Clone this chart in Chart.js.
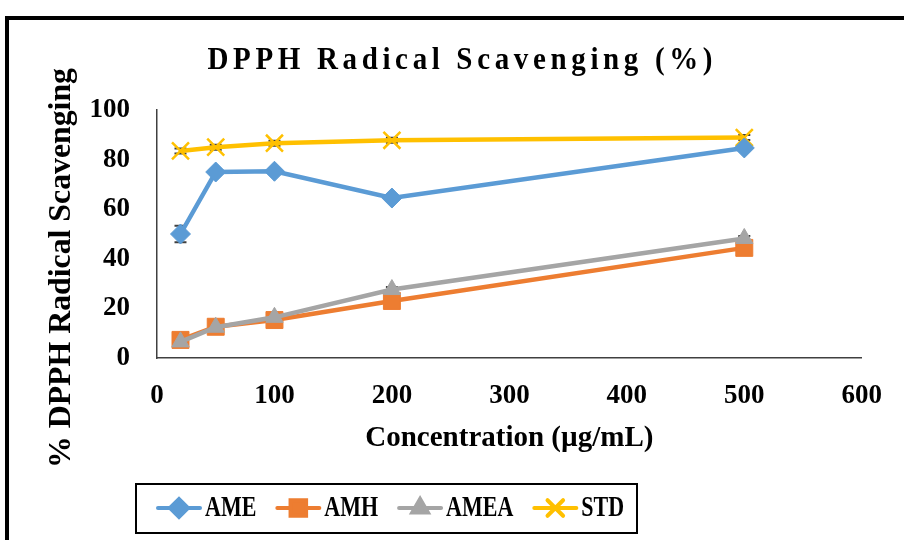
<!DOCTYPE html>
<html lang="en">
<head>
<meta charset="UTF-8">
<title>DPPH Radical Scavenging (%)</title>
<script src="https://cdn.jsdelivr.net/npm/chart.js"></script>
<style>
  body { margin: 0; background: #fff; }
  #wrap { position: relative; width: 904px; height: 540px; }
</style>
</head>
<body>
<div id="wrap"><canvas id="dpph" width="904" height="540"></canvas></div>
<script>
// concentrations (µg/mL) and % scavenging
const concentrations = [20, 50, 100, 200, 500];
const seriesNames = ["AME", "AMH", "AMEA", "STD"];
const ame  = [50.0, 75.0, 75.3, 64.5, 84.7];
const amh  = [7.3, 12.6, 15.3, 23.0, 44.4];
const amea = [6.5, 12.4, 16.4, 27.6, 48.2];
const std  = [83.5, 85.0, 86.6, 87.8, 88.9];
// error bar half-heights
const ameErr  = [3.3, 1.0, 0.8, 1.2, 0.8];
const amhErr  = [0.5, 0.5, 0.5, 0.6, 0.6];
const ameaErr = [0.5, 0.5, 0.5, 1.0, 1.0];
const stdErr  = [1.0, 1.0, 1.0, 1.0, 1.0];
const xTicks = [0, 100, 200, 300, 400, 500, 600];
const yTicks = [0, 20, 40, 60, 80, 100];

const colors = ["#5B9BD5", "#ED7D31", "#A5A5A5", "#FFC000"];
const markers = ["rectRot", "rect", "triangle", "crossRot"];
const radii = [10, 12, 10, 12];
const values = [ame, amh, amea, std];
const errors = [ameErr, amhErr, ameaErr, stdErr];
const serif = "'Liberation Serif', 'Times New Roman', serif";

function pts(arr) {
    return arr.map((v, i) => ({ x: concentrations[i], y: v }));
}

// draw text squeezed/stretched to a given width, with a vertical stretch
function drawStretched(ctx, text, cx, cy, size, width, sy, spacing) {
    ctx.save();
    ctx.font = "bold " + size + "px " + serif;
    ctx.letterSpacing = (spacing || 0) + "px";
    const w = ctx.measureText(text).width - (spacing || 0);
    ctx.translate(cx, cy);
    ctx.scale(width ? width / w : 1, sy);
    ctx.textAlign = "center";
    ctx.textBaseline = "middle";
    ctx.fillStyle = "#000";
    ctx.fillText(text, (spacing || 0) / 2, 0);
    ctx.restore();
}

const decorPlugin = {
    id: "decor",
    beforeDraw(chart) {
        const ctx = chart.ctx;
        ctx.save();
        ctx.fillStyle = "#fff";
        ctx.fillRect(0, 0, chart.width, chart.height);
        // outer frame (only top and left visible)
        ctx.strokeStyle = "#000";
        ctx.lineWidth = 4;
        ctx.beginPath();
        ctx.moveTo(7, 545);
        ctx.lineTo(7, 18);
        ctx.lineTo(910, 18);
        ctx.stroke();
        ctx.restore();
    },
    beforeDatasetsDraw(chart) {
        const ctx = chart.ctx;
        const xs = chart.scales.x, ys = chart.scales.y;
        ctx.save();
        ctx.strokeStyle = "#404040";
        ctx.lineWidth = 2;
        errors.forEach((errArr, d) => {
            errArr.forEach((e, i) => {
                const px = xs.getPixelForValue(concentrations[i]);
                const top = ys.getPixelForValue(values[d][i] + e);
                const bot = ys.getPixelForValue(values[d][i] - e);
                ctx.beginPath();
                ctx.moveTo(px, top); ctx.lineTo(px, bot);
                ctx.moveTo(px - 6, top); ctx.lineTo(px + 6, top);
                ctx.moveTo(px - 6, bot); ctx.lineTo(px + 6, bot);
                ctx.stroke();
            });
        });
        ctx.restore();
    },
    afterDraw(chart) {
        const ctx = chart.ctx;
        // title
        drawStretched(ctx, "DPPH Radical Scavenging (%)", 460, 61, 25, 505, 1.25, 4);
        // y axis title
        ctx.save();
        ctx.translate(62, 268);
        ctx.rotate(-Math.PI / 2);
        drawStretched(ctx, "% DPPH Radical Scavenging", 0, 0, 26, 400, 1.2, 0);
        ctx.restore();

        // legend box
        ctx.save();
        ctx.strokeStyle = "#000";
        ctx.lineWidth = 2;
        ctx.strokeRect(136, 484, 501, 49);
        let x = 158;
        const y = 508;
        seriesNames.forEach((name, i) => {
            ctx.strokeStyle = colors[i];
            ctx.lineWidth = 4;
            ctx.lineCap = "round";
            ctx.beginPath();
            ctx.moveTo(x, y); ctx.lineTo(x + 42, y);
            ctx.stroke();
            ctx.fillStyle = colors[i];
            Chart.helpers.drawPoint(ctx, {
                pointStyle: markers[i],
                radius: radii[i] - 1,
                rotation: 0,
                borderWidth: i === 3 ? 2 : 1
            }, x + 21, y);
            ctx.font = "bold 22px " + serif;
            const tw = ctx.measureText(name).width;
            drawStretched(ctx, name, x + 47 + tw / 2, y, 22, tw, 1.35, 0);
            x += 47 + tw + 21;
        });
        ctx.restore();
    }
};

const datasets = seriesNames.map((name, i) => ({
    label: name,
    data: pts(values[i]),
    borderColor: colors[i],
    backgroundColor: colors[i],
    borderWidth: 4.5,
    pointStyle: markers[i],
    pointRadius: radii[i],
    pointHoverRadius: radii[i],
    pointBorderWidth: i === 3 ? 2.5 : 1,
    pointBackgroundColor: colors[i],
    pointBorderColor: colors[i],
    tension: 0,
    order: [2, 1, 0, 3][i]
}));

new Chart(document.getElementById("dpph"), {
    type: "line",
    data: { datasets },
    options: {
        responsive: false,
        animation: false,
        devicePixelRatio: 1,
        layout: { padding: { left: 0, top: 110, right: 38, bottom: 78 } },
        plugins: {
            legend: { display: false },
            title: { display: false },
            tooltip: { enabled: false }
        },
        scales: {
            x: {
                type: "linear",
                min: 0, max: 600,
                afterBuildTicks: s => { s.ticks = xTicks.map(v => ({ value: v })); },
                afterFit: s => { s.height = 104; },
                grid: { display: false, drawTicks: false },
                border: { display: true, color: "#404040", width: 1.5 },
                ticks: { color: "#000", padding: 22, font: { family: serif, size: 27, weight: "bold" } },
                title: {
                    display: true,
                    text: "Concentration (µg/mL)",
                    color: "#000",
                    font: { family: serif, size: 29, weight: "bold" },
                    padding: { top: 0, bottom: 6 }
                }
            },
            y: {
                min: 0, max: 100,
                afterBuildTicks: s => { s.ticks = yTicks.map(v => ({ value: v })); },
                afterFit: s => { s.width = 157; },
                grid: { display: false, drawTicks: false },
                border: { display: true, color: "#404040", width: 1.5 },
                ticks: { color: "#000", padding: 27, font: { family: serif, size: 27, weight: "bold" } }
            }
        }
    },
    plugins: [decorPlugin]
});
</script>
</body>
</html>
